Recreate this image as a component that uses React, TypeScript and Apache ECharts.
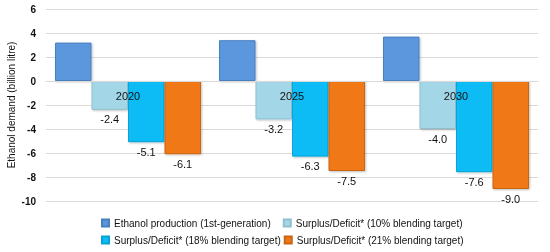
import React, { useEffect, useRef } from "react";
import * as echarts from "echarts";

const categories = ["2020", "2025", "2030"];
const seriesNames = [
  "Ethanol production (1st-generation)",
  "Surplus/Deficit* (10% blending target)",
  "Surplus/Deficit* (18% blending target)",
  "Surplus/Deficit* (21% blending target)",
];
const ethanolProduction = [3.2, 3.4, 3.7];
const deficit10 = [-2.4, -3.2, -4.0];
const deficit18 = [-5.1, -6.3, -7.6];
const deficit21 = [-6.1, -7.5, -9.0];
const yTicks = { min: -10, max: 6, interval: 2 };

const colors = ["#5b97dd", "#a3d7e7", "#08bcf4", "#f07816"];
const borders = ["#4a7fbf", "#8fbfcf", "#07a3d6", "#c96410"];

export default function App() {
  const ref = useRef<HTMLDivElement>(null);
  useEffect(() => {
    if (!ref.current) return;
    const chart = echarts.init(ref.current, undefined, { renderer: "svg" });
    const font = "'Liberation Sans', Arial, sans-serif";
    const datasets = [ethanolProduction, deficit10, deficit18, deficit21];
    chart.setOption({
      animation: false,
      textStyle: { fontFamily: font },
      grid: { left: 46, right: 12, top: 9, bottom: 51, outerBoundsMode: "none", containLabel: false },
      legend: [
        {
          data: [seriesNames[0], seriesNames[1]],
          left: 96,
          top: 213,
          itemWidth: 7,
          itemHeight: 7,
          itemGap: 12,
          icon: "rect",
          textStyle: { fontSize: 10, color: "#111", fontFamily: font },
        },
        {
          data: [seriesNames[2], seriesNames[3]],
          left: 96,
          top: 230,
          itemWidth: 7,
          itemHeight: 7,
          itemGap: 3,
          icon: "rect",
          textStyle: { fontSize: 10, color: "#111", fontFamily: font },
        },
      ],
      xAxis: {
        type: "category",
        data: categories,
        offset: -120,
        z: 10,
        axisLine: { show: true, onZero: false, lineStyle: { color: "#d9d9d9" } },
        axisTick: { show: false },
        axisLabel: { color: "#111", fontSize: 11, margin: 9 },
      },
      yAxis: {
        type: "value",
        min: yTicks.min,
        max: yTicks.max,
        interval: yTicks.interval,
        name: "Ethanol demand (billion litre)",
        nameLocation: "middle",
        nameGap: 30,
        nameMoveOverlap: false,
        nameTextStyle: { fontSize: 10, color: "#111" },
        axisLine: { show: false },
        axisTick: { show: false },
        axisLabel: { color: "#111", fontSize: 10, fontWeight: "bold", margin: 10 },
        splitLine: { lineStyle: { color: "#d9d9d9" } },
      },
      series: datasets.map((d, i) => ({
        name: seriesNames[i],
        type: "bar",
        data: d,
        barGap: "0%",
        barCategoryGap: "11%",
        itemStyle: {
          color: colors[i],
          borderColor: borders[i],
          borderWidth: 1,
          shadowColor: "rgba(0,0,0,0.25)",
          shadowBlur: 2,
          shadowOffsetX: 1,
          shadowOffsetY: 1,
        },
        label: {
          show: i > 0,
          position: "bottom",
          distance: 4,
          color: "#111",
          fontSize: 11,
          formatter: (p: any) => p.value.toFixed(1),
        },
      })),
    });
    return () => chart.dispose();
  }, []);
  return (
    <div
      ref={ref}
      style={{ position: "fixed", left: 0, top: 0, width: 550, height: 252 }}
    />
  );
}
